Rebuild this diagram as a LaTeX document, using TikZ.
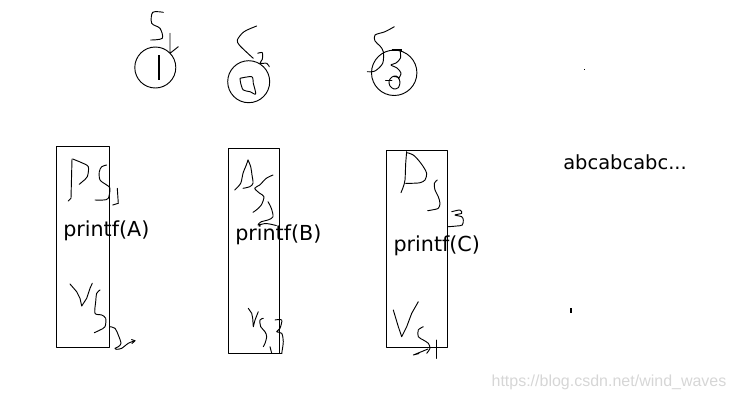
\documentclass[tikz,border=0pt]{standalone}
\usepackage{fontspec}
\setmainfont{DejaVu Sans}
\newfontfamily\markfont{Liberation Sans}
\usetikzlibrary{calc}

\begin{document}
\begin{tikzpicture}[x=0.75pt,y=-0.75pt,
    pen/.style={line width=0.7pt,line join=round,line cap=round},
    ink/.style={pen,smooth,tension=0.5},
    txt/.style={inner sep=0pt,anchor=base west,font=\fontsize{15.5}{18}\selectfont}]
\useasboundingbox (0,0) rectangle (735,401);
            \draw[pen] (155.3,67.5) circle (20.5);
            \draw[line width=1.5pt] (159,55) -- (159,80);
            \draw[ink] plot coordinates {(163.3,12.3) (152.7,12.3) (151.7,23.3) (160,28.3) (162.3,38.3) (150.7,40)};
            \draw[pen] (170,33.3) -- (170,53.3) -- (178.3,46.7);
            \draw[pen] (248.7,81.7) circle (21);
            \draw[ink] plot coordinates {(256.7,26) (244,31.7) (237.3,40) (239.3,45) (245,50.7) (250.7,56) (253.3,58.3)};
            \draw[ink] plot coordinates {(257.7,53.3) (262.3,52.7) (262.3,59.3) (260,63.3) (266.7,63.3) (269.3,66.7)};
            \draw[ink] plot coordinates {(240,78.3) (251.7,76.7) (253.3,83.3) (255.7,94) (250,91.7) (243.3,90) (240.7,83.3) (240,78.3)};
            \draw[pen] (394.2,72.8) circle (22.7);
            \draw[line width=1.5pt] (391.7,50) -- (401.7,50);
            \draw[ink] plot coordinates {(394.3,26.7) (385,31.7) (375,35) (375,41) (380,46) (383.3,51.7) (382.7,63.3) (375,71) (367.3,71.7)};
            \draw[ink] plot coordinates {(400,50) (400.5,58) (396,63) (391,65) (397,68) (401,73) (399,78)};
            \draw[ink] plot coordinates {(399,78) (396,76) (392,77) (389,81) (390,86) (394,89) (398.5,87.5) (400,82) (398,77.5) (394,76.5)};
            \draw[pen] (385.5,80) -- (392,80);
            % the three stacks
            \draw[pen] (56,146) rectangle (109,347);
            \draw[pen] (72,159) -- (71,198.3) -- (68.3,201);
            \draw[ink] plot coordinates {(72.7,159) (81.7,162.7) (88.3,166.7) (87.3,176.7) (82.3,181.7) (79.3,184.3)};
            \draw[ink] plot coordinates {(106.7,165) (101.7,166.7) (99.3,171.7) (100,180) (106.7,185) (110,188.3) (108.3,198.3) (103.3,200) (95,200)};
            \draw[pen] (117.3,188.3) -- (118.3,203.3) -- (112.7,205);
            \draw[pen] (70,284) -- (76.7,291.7) -- (80,298.3) -- (81.7,306) -- (86.7,298.3) -- (90,288.3) -- (92.3,283.3);
            \draw[ink] plot coordinates {(100,290) (96.7,293.3) (95.7,301.7) (95,313.3) (101.7,315) (105.7,318.3) (105,326.7) (100,330) (94.3,332.7)};
            \draw[ink] plot coordinates {(110,326.7) (115,328.3) (118.3,335) (121,343.3) (118.3,346.7) (115,348.3) (116.7,349.3) (121.7,348.3) (128.3,343.3) (135,340.7)};
            \draw[pen] (131.5,339.5) -- (135,340.7) -- (132,343.5);
            \node[txt] (txtA) at (63,236) {printf(A)};
            \draw[pen] (228,148) rectangle (279,353);
            \draw[ink] plot coordinates {(248,160) (246.3,165) (243,173.3) (240.7,183.3) (234.7,190)};
            \draw[ink] plot coordinates {(248,160) (250.7,166.7) (252,175) (253,183.3) (249.7,186.7) (243,188.3)};
            \draw[ink] plot coordinates {(273,175) (266.3,178.3) (259.7,185) (254.7,188.3) (259.7,193.3) (264,196.7) (261.3,205) (256.3,210) (253,212.3)};
            \draw[ink] plot coordinates {(268,201.7) (271.3,208.3) (273,216.7) (268,220) (261.3,221.7) (258,225) (266,223.5) (276.3,225.5)};
            \draw[pen] (248.3,308.3) -- (251.7,313.3) -- (252.7,318.3) -- (253.3,326.7) -- (255,320) -- (258.3,311.7);
            \draw[ink] plot coordinates {(263.3,318.3) (260,320) (260.7,326.7) (265,331.7) (266.7,336.7) (265,343.3) (263.3,346.7)};
            \draw[pen] (270,346.7) -- (271.7,353.3);
            \draw[ink] plot coordinates {(275,320) (281.7,320) (280,328.3) (276.7,331.7) (281.7,333.3) (283.3,341.7) (281.7,353.3)};
            \draw[pen] (279,353) -- (282,353);
            \node[txt] (txtB) at (235,240) {printf(B)};
            \draw[pen] (386,150) rectangle (447,347);
            \draw[ink] plot coordinates {(406.7,151.7) (405.7,163.3) (405,180) (403.3,186.7) (401,192.7)};
            \draw[ink] plot coordinates {(407.3,152.7) (413.3,155) (418.3,160) (423.3,166.7) (426.7,173.3) (425,180) (420,182.7) (411.7,183.3) (405.7,183.3)};
            \draw[ink] plot coordinates {(437.3,180) (434.3,183.3) (435,190) (438.3,196.7) (440,203.3) (438.3,208.3) (431.7,210) (427.7,210.7)};
            \draw[ink] plot coordinates {(451.7,211.7) (460,210) (461.7,213.3) (455,215) (461.7,216.7) (463.3,220) (462.3,225) (456.7,226) (448.3,226.7)};
            \draw[pen] (393.3,310) -- (398.3,326.7) -- (401.7,336.7) -- (406.7,326.7) -- (411.7,313.3) -- (418.3,301.7);
            \draw[ink] plot coordinates {(423.3,326.7) (418.3,330) (418.3,336.7) (423.3,340) (428.3,343.3) (430,348.3) (426.7,353.3)};
            \draw[pen] (436.7,340) -- (436.7,358.3);
            \draw[pen] (428,349) -- (413.3,355) -- (419,353.5);
            \node[txt] (txtC) at (393.3,251) {printf(C)};
            \node[txt,font=\fontsize{14.6}{18}\selectfont] (out) at (563,169.5) {abcabcabc...};
            \fill (584,69) rectangle (585.2,70.2);
            \fill (570,308.3) rectangle (571.8,313.3);
            \node[inner sep=0pt,anchor=base,text=black!16,font=\markfont\fontsize{12}{14}\selectfont] (mark) at (609,386.5) {https://blog.csdn.net/wind\_waves};
\end{tikzpicture}
\end{document}
